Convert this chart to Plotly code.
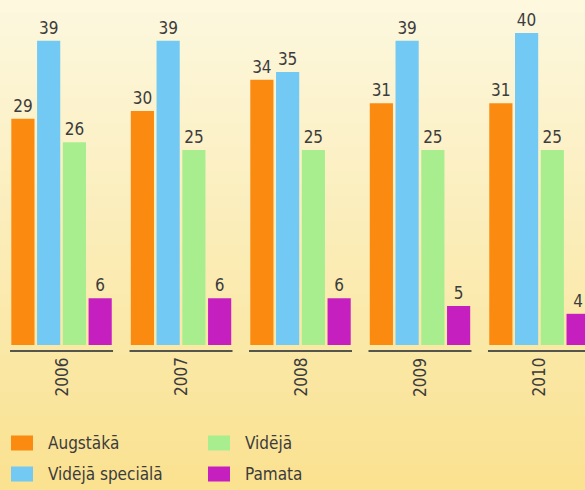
import plotly.graph_objects as go

YEARS = ["2006", "2007", "2008", "2009", "2010"]
AUGSTAKA = [29, 30, 34, 31, 31]
VIDEJA_SPECIALA = [39, 39, 35, 39, 40]
VIDEJA = [26, 25, 25, 25, 25]
PAMATA = [6, 6, 6, 5, 4]

SERIES = [
    ("Augstākā", AUGSTAKA, "#fb8a10"),
    ("Vidējā speciālā", VIDEJA_SPECIALA, "#72c9f4"),
    ("Vidējā", VIDEJA, "#a9ee8e"),
    ("Pamata", PAMATA, "#c61fc0"),
]

W, H = 585, 490
BASE = 345          # pixel row of the bar baseline
FONT = dict(family="DejaVu Sans Condensed, DejaVu Sans", color="#3c3c3c")


def px_y(py):
    # pixel row -> paper y (plot area is rows 0..BASE)
    return (BASE - py) / BASE


fig = go.Figure()
for name, vals, color in SERIES:
    fig.add_trace(go.Bar(
        x=YEARS, y=vals, name=name,
        marker=dict(color=color, line=dict(width=0)),
        text=vals, textposition="outside",
        textfont=dict(size=17, **FONT),
        cliponaxis=False, showlegend=False,
    ))

shapes = []
# cream-to-yellow wash behind everything
steps = 40
top_c = (253, 248, 222)
bot_c = (250, 226, 145)
for i in range(steps):
    t = i / (steps - 1)
    c = tuple(int(top_c[k] + (bot_c[k] - top_c[k]) * t) for k in range(3))
    y0 = H * i / steps
    y1 = H * (i + 1) / steps + 1
    shapes.append(dict(
        type="rect", xref="paper", yref="paper", x0=0, x1=1,
        y0=px_y(y1), y1=px_y(y0), fillcolor=f"rgb{c}", line=dict(width=0),
        layer="below",
    ))

# group underlines + rotated year labels
annotations = []
half = 0.431
for i, yr in enumerate(YEARS):
    shapes.append(dict(
        type="line", xref="x", yref="paper", x0=i - half, x1=i + half,
        y0=px_y(351), y1=px_y(351), line=dict(color="#55554d", width=2),
    ))
    annotations.append(dict(
        x=i, xref="x", yref="paper", y=px_y(377), yanchor="middle",
        text=yr, textangle=-90, showarrow=False, font=dict(size=17, **FONT),
    ))

# manual legend
legend_pos = [
    ("Augstākā", "#fb8a10", 11, 443),
    ("Vidējā speciālā", "#72c9f4", 11, 474),
    ("Vidējā", "#a9ee8e", 208, 443),
    ("Pamata", "#c61fc0", 208, 474),
]
for label, color, lx, ly in legend_pos:
    shapes.append(dict(
        type="rect", xref="paper", yref="paper",
        x0=lx / W, x1=(lx + 22) / W, y0=px_y(ly + 7.5), y1=px_y(ly - 7.5),
        fillcolor=color, line=dict(width=0),
    ))
    annotations.append(dict(
        x=(lx + 35) / W, xref="paper", xanchor="left",
        y=px_y(ly), yref="paper", yanchor="middle",
        text=label, showarrow=False, font=dict(size=17, **FONT),
    ))

fig.update_layout(
    width=W, height=H,
    margin=dict(l=0, r=0, t=0, b=H - BASE),
    barmode="group", bargap=0.138, bargroupgap=0.1,
    paper_bgcolor="rgb(252,238,185)", plot_bgcolor="rgba(0,0,0,0)",
    xaxis=dict(type="category", range=[-0.515, 4.381], showticklabels=False,
               showgrid=False, zeroline=False, showline=False, ticks=""),
    yaxis=dict(range=[0, BASE / 7.8], visible=False),
    shapes=shapes, annotations=annotations,
    showlegend=False,
)

fig.write_html("out.html", config={"displayModeBar": False},
               post_script="document.body.style.margin='0';")
